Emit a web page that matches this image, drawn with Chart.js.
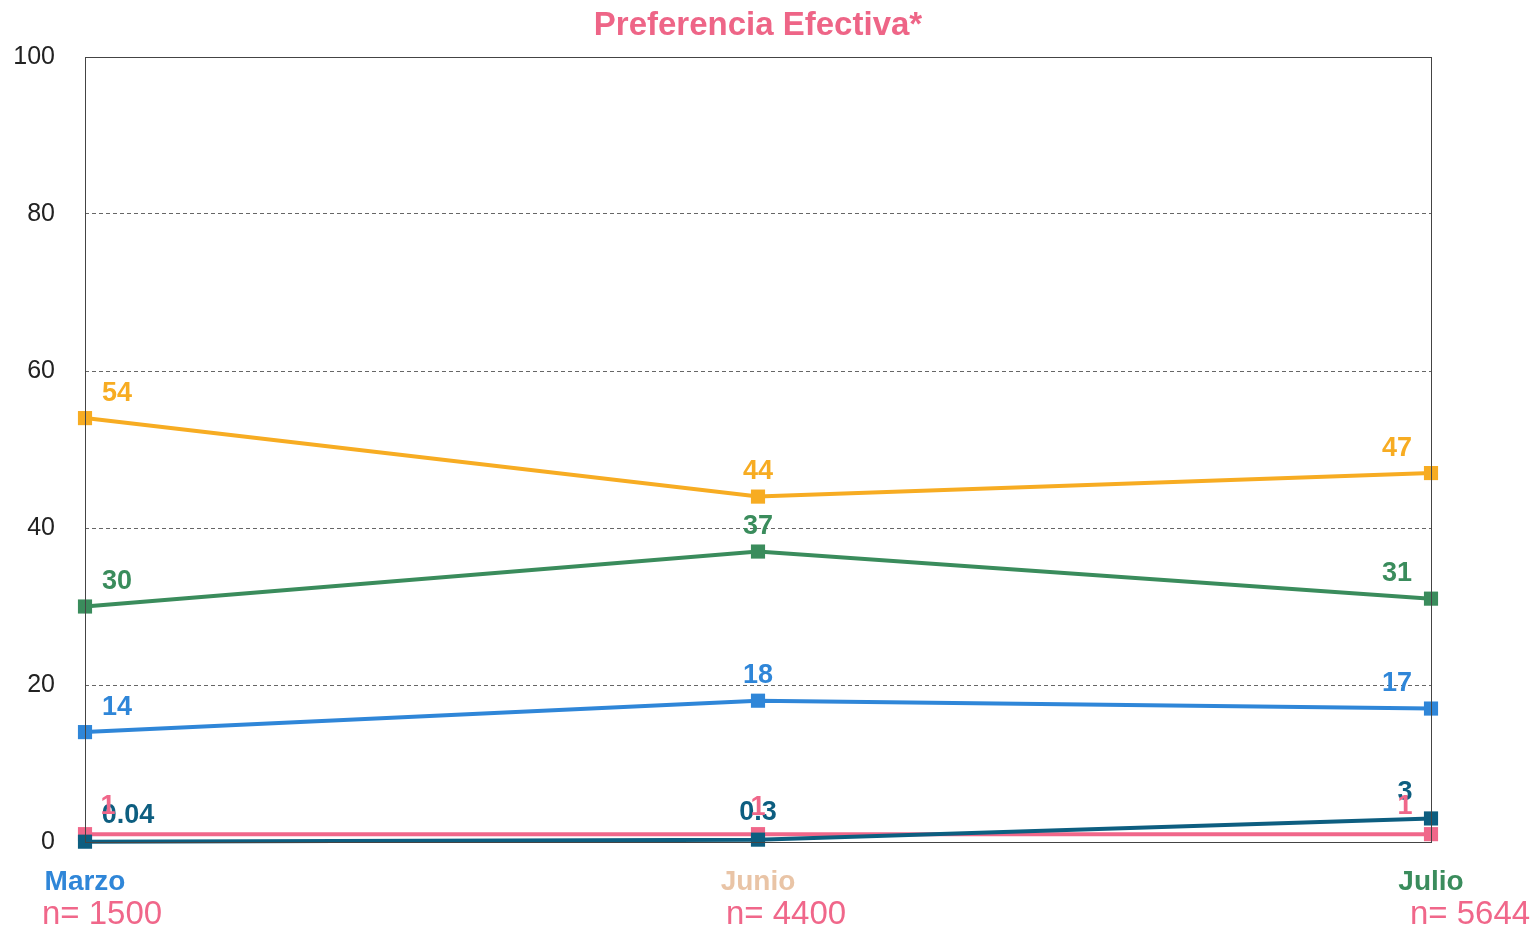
<!DOCTYPE html>
<html lang="es">
<head>
    <meta charset="UTF-8">
    <title>Preferencia Efectiva</title>
    <script src="https://cdn.jsdelivr.net/npm/chart.js"></script>
    <style>
        body { margin: 0; background: #fff; }
        #contenedor { width: 1536px; height: 928px; }
    </style>
</head>
<body>
    <div id="contenedor"><canvas id="grafica"></canvas></div>
    <script>
        // datos
        const titulo = 'Preferencia Efectiva*';
        const meses = ['Marzo', 'Junio', 'Julio'];
        const muestras = ['n= 1500', 'n= 4400', 'n= 5644'];
        const ticksY = [0, 20, 40, 60, 80, 100];

        const serieNaranja = [54, 44, 47];
        const serieVerde = [30, 37, 31];
        const serieAzul = [14, 18, 17];
        const serieAzulOscuro = [0.04, 0.3, 3];
        const serieRosa = [1, 1, 1];

        const colorMes = ['#2F86D8', '#E9C4A6', '#3A8C5C'];
        const rosa = '#F0678A';
        const fuente = '"Liberation Sans", Arial, sans-serif';

        function serie(data, color, dx, dy) {
            return {
                data: data,
                borderColor: color,
                backgroundColor: color,
                borderWidth: 4,
                pointStyle: 'rect',
                pointRadius: 10,
                pointBorderWidth: 0,
                pointHoverRadius: 10,
                tension: 0,
                clip: false,
                etiquetaDx: dx || [32, 0, -34],
                etiquetaDy: dy || [-25, -25, -25]
            };
        }

        const etiquetas = {
            id: 'etiquetas',
            afterDatasetsDraw(chart) {
                const ctx = chart.ctx;
                ctx.save();
                ctx.font = 'bold 27px ' + fuente;
                ctx.textAlign = 'center';
                ctx.textBaseline = 'middle';
                chart.data.datasets.forEach((ds, d) => {
                    const meta = chart.getDatasetMeta(d);
                    meta.data.forEach((p, i) => {
                        ctx.fillStyle = ds.borderColor;
                        ctx.fillText(String(ds.data[i]), p.x + ds.etiquetaDx[i], p.y + ds.etiquetaDy[i]);
                    });
                });
                ctx.restore();
            },
            afterDraw(chart) {
                const ctx = chart.ctx;
                const a = chart.chartArea;
                const x = chart.scales.x;
                ctx.save();
                ctx.strokeStyle = '#444';
                ctx.lineWidth = 1;
                ctx.strokeRect(a.left + 0.5, a.top + 0.5, a.right - a.left, a.bottom - a.top);

                ctx.textAlign = 'center';
                ctx.textBaseline = 'middle';
                ctx.font = 'bold 33px ' + fuente;
                ctx.fillStyle = '#EE6587';
                ctx.fillText(titulo, (a.left + a.right) / 2, 26);

                const desp = [17, 28, 39];
                meses.forEach((m, i) => {
                    const px = x.getPixelForTick(i);
                    ctx.font = 'bold 28px ' + fuente;
                    ctx.fillStyle = colorMes[i];
                    ctx.fillText(m, px, 882);
                    ctx.font = '33px ' + fuente;
                    ctx.fillStyle = rosa;
                    ctx.fillText(muestras[i], px + desp[i], 915);
                });
                ctx.restore();
            }
        };

        new Chart(document.getElementById('grafica'), {
            type: 'line',
            data: {
                labels: meses,
                datasets: [
                    serie(serieNaranja, '#F7AC22'),
                    serie(serieVerde, '#3A8C5C'),
                    serie(serieAzul, '#2F86D8'),
                    serie(serieAzulOscuro, '#0D5E80', [43, 0, -26], [-26, -27, -26]),
                    serie(serieRosa, rosa, [23, 0, -26], [-28, -27, -28])
                ]
            },
            options: {
                responsive: true,
                maintainAspectRatio: false,
                animation: false,
                layout: { padding: { left: 0, right: 105, top: 57, bottom: 0 } },
                scales: {
                    x: {
                        offset: false,
                        grid: { display: false },
                        border: { display: false },
                        ticks: { display: false },
                        afterFit(s) { s.height = 86; }
                    },
                    y: {
                        min: 0,
                        max: 100,
                        afterBuildTicks(s) { s.ticks = ticksY.map(v => ({ value: v })); },
                        afterFit(s) { s.width = 85; },
                        border: { display: false, dash: [4, 3] },
                        grid: {
                            drawTicks: false,
                            color: c => (c.tick.value === 0 || c.tick.value === 100) ? 'rgba(0,0,0,0)' : '#666',
                            lineWidth: 1
                        },
                        ticks: {
                            padding: 30,
                            color: '#222',
                            font: { family: fuente, size: 25 }
                        }
                    }
                },
                plugins: {
                    legend: { display: false },
                    tooltip: { enabled: false },
                    title: { display: false }
                }
            },
            plugins: [etiquetas]
        });
    </script>
</body>
</html>
